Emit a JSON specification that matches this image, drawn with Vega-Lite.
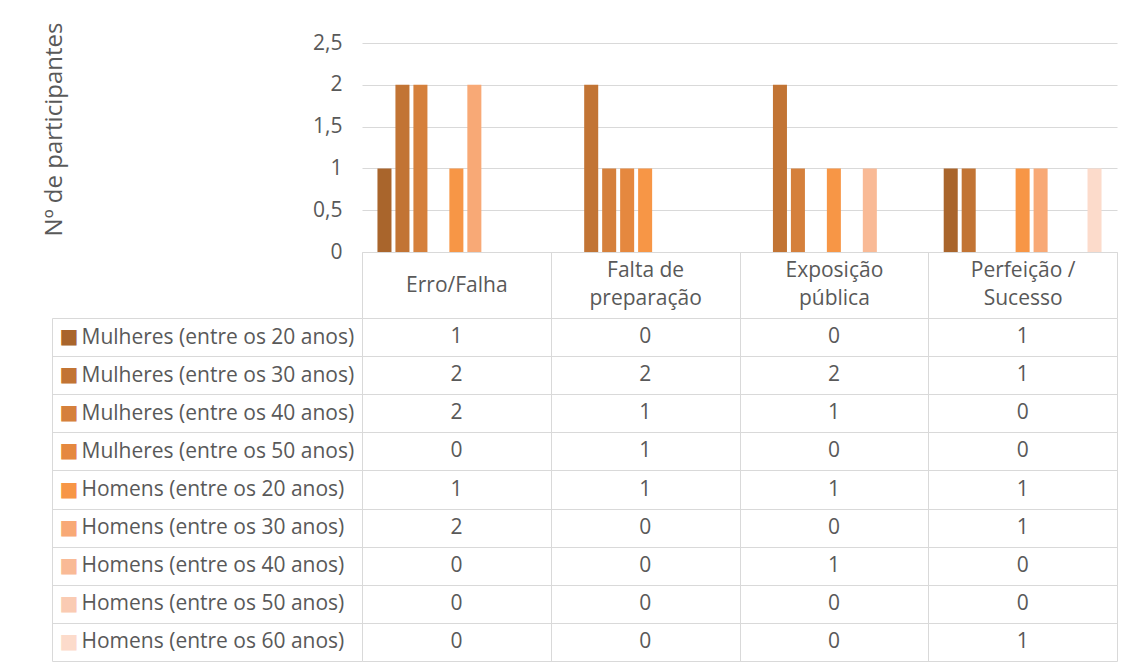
{
  "$schema": "https://vega.github.io/schema/vega-lite/v6.json",
  "background": "white",
  "padding": {"left": 42, "top": 22, "right": 18, "bottom": 4},
  "config": {
    "font": "Open Sans",
    "view": {"stroke": null},
    "axis": {"labelColor": "#595959", "titleColor": "#595959", "labelFontSize": 21, "titleFontWeight": "normal"}
  },
  "data": {
    "values": [
      {"cat": "Erro/Falha", "serie": "Mulheres (entre os 20 anos)", "n": 1},
      {"cat": "Falta de preparação", "serie": "Mulheres (entre os 20 anos)", "n": 0},
      {"cat": "Exposição pública", "serie": "Mulheres (entre os 20 anos)", "n": 0},
      {"cat": "Perfeição / Sucesso", "serie": "Mulheres (entre os 20 anos)", "n": 1},
      {"cat": "Erro/Falha", "serie": "Mulheres (entre os 30 anos)", "n": 2},
      {"cat": "Falta de preparação", "serie": "Mulheres (entre os 30 anos)", "n": 2},
      {"cat": "Exposição pública", "serie": "Mulheres (entre os 30 anos)", "n": 2},
      {"cat": "Perfeição / Sucesso", "serie": "Mulheres (entre os 30 anos)", "n": 1},
      {"cat": "Erro/Falha", "serie": "Mulheres (entre os 40 anos)", "n": 2},
      {"cat": "Falta de preparação", "serie": "Mulheres (entre os 40 anos)", "n": 1},
      {"cat": "Exposição pública", "serie": "Mulheres (entre os 40 anos)", "n": 1},
      {"cat": "Perfeição / Sucesso", "serie": "Mulheres (entre os 40 anos)", "n": 0},
      {"cat": "Erro/Falha", "serie": "Mulheres (entre os 50 anos)", "n": 0},
      {"cat": "Falta de preparação", "serie": "Mulheres (entre os 50 anos)", "n": 1},
      {"cat": "Exposição pública", "serie": "Mulheres (entre os 50 anos)", "n": 0},
      {"cat": "Perfeição / Sucesso", "serie": "Mulheres (entre os 50 anos)", "n": 0},
      {"cat": "Erro/Falha", "serie": "Homens (entre os 20 anos)", "n": 1},
      {"cat": "Falta de preparação", "serie": "Homens (entre os 20 anos)", "n": 1},
      {"cat": "Exposição pública", "serie": "Homens (entre os 20 anos)", "n": 1},
      {"cat": "Perfeição / Sucesso", "serie": "Homens (entre os 20 anos)", "n": 1},
      {"cat": "Erro/Falha", "serie": "Homens (entre os 30 anos)", "n": 2},
      {"cat": "Falta de preparação", "serie": "Homens (entre os 30 anos)", "n": 0},
      {"cat": "Exposição pública", "serie": "Homens (entre os 30 anos)", "n": 0},
      {"cat": "Perfeição / Sucesso", "serie": "Homens (entre os 30 anos)", "n": 1},
      {"cat": "Erro/Falha", "serie": "Homens (entre os 40 anos)", "n": 0},
      {"cat": "Falta de preparação", "serie": "Homens (entre os 40 anos)", "n": 0},
      {"cat": "Exposição pública", "serie": "Homens (entre os 40 anos)", "n": 1},
      {"cat": "Perfeição / Sucesso", "serie": "Homens (entre os 40 anos)", "n": 0},
      {"cat": "Erro/Falha", "serie": "Homens (entre os 50 anos)", "n": 0},
      {"cat": "Falta de preparação", "serie": "Homens (entre os 50 anos)", "n": 0},
      {"cat": "Exposição pública", "serie": "Homens (entre os 50 anos)", "n": 0},
      {"cat": "Perfeição / Sucesso", "serie": "Homens (entre os 50 anos)", "n": 0},
      {"cat": "Erro/Falha", "serie": "Homens (entre os 60 anos)", "n": 0},
      {"cat": "Falta de preparação", "serie": "Homens (entre os 60 anos)", "n": 0},
      {"cat": "Exposição pública", "serie": "Homens (entre os 60 anos)", "n": 0},
      {"cat": "Perfeição / Sucesso", "serie": "Homens (entre os 60 anos)", "n": 1}
    ]
  },
  "bounds": "flush",
  "spacing": 66,
  "vconcat": [
    {
      "width": 755,
      "height": 209,
      "mark": {"type": "bar"},
      "encoding": {
        "x": {
          "field": "cat", "type": "nominal",
          "sort": ["Erro/Falha", "Falta de preparação", "Exposição pública", "Perfeição / Sucesso"],
          "scale": {"paddingInner": 0, "paddingOuter": 0},
          "axis": {
            "title": null, "orient": "bottom", "labelAngle": 0,
            "domainColor": "#D9D9D9", "tickBand": "extent", "tickSize": 66, "tickColor": "#D9D9D9",
            "labelBaseline": "middle", "labelLineHeight": 28,
            "labelPadding": {"condition": {"test": "datum.value === 'Erro/Falha'", "value": -33}, "value": -48},
            "labelExpr": "datum.label === 'Falta de preparação' ? ['Falta de', 'preparação'] : datum.label === 'Exposição pública' ? ['Exposição', 'pública'] : datum.label === 'Perfeição / Sucesso' ? ['Perfeição /', 'Sucesso'] : datum.label"
          }
        },
        "xOffset": {
          "field": "serie", "type": "nominal", "sort": null,
          "scale": {"paddingInner": 0.22, "paddingOuter": 0.86}
        },
        "y": {
          "field": "n", "type": "quantitative",
          "scale": {"domain": [0, 2.5], "nice": false},
          "axis": {
            "values": [0, 0.5, 1, 1.5, 2, 2.5],
            "labelExpr": "replace(format(datum.value, '~g'), '.', ',')",
            "title": "Nº de participantes", "titleFontSize": 24,
            "titleX": -301, "titleY": 86, "titleAlign": "center", "titleBaseline": "alphabetic",
            "grid": true, "gridColor": "#D9D9D9", "domain": false, "ticks": false, "labelPadding": 20
          }
        },
        "color": {
          "field": "serie", "type": "nominal",
          "scale": {
            "domain": ["Mulheres (entre os 20 anos)", "Mulheres (entre os 30 anos)", "Mulheres (entre os 40 anos)", "Mulheres (entre os 50 anos)", "Homens (entre os 20 anos)", "Homens (entre os 30 anos)", "Homens (entre os 40 anos)", "Homens (entre os 50 anos)", "Homens (entre os 60 anos)"],
            "range": ["#A9652C", "#C27434", "#D5803C", "#E5883F", "#F79646", "#F8A976", "#F9BA96", "#FACBB3", "#FCDBCB"]
          },
          "legend": null
        }
      }
    },
    {
      "width": 755,
      "height": 343,
      "encoding": {
        "x": {
          "field": "cat", "type": "nominal",
          "sort": ["Erro/Falha", "Falta de preparação", "Exposição pública", "Perfeição / Sucesso"],
          "scale": {"paddingInner": 0, "paddingOuter": 0},
          "axis": {"title": null, "orient": "top", "labels": false, "ticks": false, "domain": false, "grid": true, "gridColor": "#D9D9D9", "tickBand": "extent"}
        }
      },
      "resolve": {"axis": {"y": "independent"}},
      "layer": [
        {
          "mark": {"type": "rect", "opacity": 0},
          "encoding": {
            "y": {
              "field": "serie", "type": "nominal", "sort": null,
              "scale": {"paddingInner": 0, "paddingOuter": 0},
              "axis": {
                "title": null, "orient": "left", "offset": 310,
                "domain": true, "domainColor": "#D9D9D9", "ticks": false, "grid": false,
                "labelExpr": "'■'", "labelFont": "DejaVu Sans", "labelFontSize": 20,
                "labelAlign": "left", "labelPadding": -7,
                "labelColor": {
                  "condition": [
                    {"test": "datum.value === 'Mulheres (entre os 20 anos)'", "value": "#A9652C"},
                    {"test": "datum.value === 'Mulheres (entre os 30 anos)'", "value": "#C27434"},
                    {"test": "datum.value === 'Mulheres (entre os 40 anos)'", "value": "#D5803C"},
                    {"test": "datum.value === 'Mulheres (entre os 50 anos)'", "value": "#E5883F"},
                    {"test": "datum.value === 'Homens (entre os 20 anos)'", "value": "#F79646"},
                    {"test": "datum.value === 'Homens (entre os 30 anos)'", "value": "#F8A976"},
                    {"test": "datum.value === 'Homens (entre os 40 anos)'", "value": "#F9BA96"},
                    {"test": "datum.value === 'Homens (entre os 50 anos)'", "value": "#FACBB3"}
                  ],
                  "value": "#FCDBCB"
                }
              }
            }
          }
        },
        {
          "mark": {"type": "text", "fontSize": 21, "color": "#595959", "align": "center", "baseline": "middle"},
          "encoding": {
            "y": {
              "field": "serie", "type": "nominal", "sort": null,
              "scale": {"paddingInner": 0, "paddingOuter": 0},
              "axis": {
                "title": null, "orient": "left", "offset": 0,
                "domain": false, "ticks": true, "tickSize": 310, "tickColor": "#D9D9D9", "tickBand": "extent",
                "grid": true, "gridColor": "#D9D9D9",
                "labelAlign": "left", "labelPadding": -29, "labelLimit": 400
              }
            },
            "text": {"field": "n", "type": "quantitative"}
          }
        }
      ]
    }
  ]
}
